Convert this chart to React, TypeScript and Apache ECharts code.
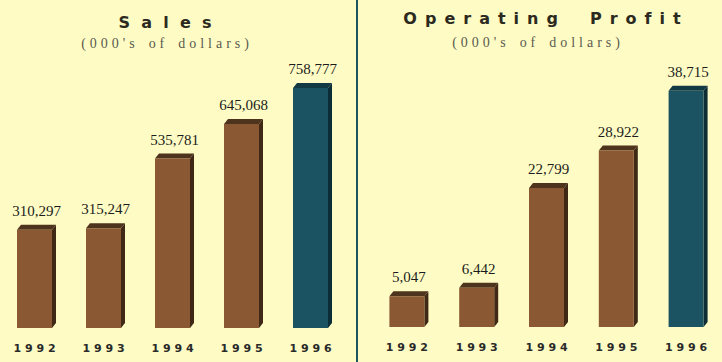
import React, { useEffect, useRef } from "react";
import * as echarts from "echarts";

const years = ["1992", "1993", "1994", "1995", "1996"];
const salesValues = [310297, 315247, 535781, 645068, 758777];
const profitValues = [5047, 6442, 22799, 28922, 38715];
const salesTitle = "Sales";
const profitTitle = "Operating Profit";
const subtitle = "(000's of dollars)";

const spaced = (s: string, gap: string, wordGap: string) =>
  s.split(" ").map((w) => w.split("").join(gap)).join(wordGap);

const BROWN = { front: "#8a5933", side: "#3f2916", top: "#4e331d" };
const TEAL = { front: "#1b5362", side: "#0c2d36", top: "#123a45" };

const makeRender = (count: number) => (params: any, api: any) => {
  const i = api.value(0);
  const v = api.value(1);
  const top = api.coord([i, v]);
  const base = api.coord([i, 0]);
  const w = 35;
  const dx = 4;
  const dy = 5;
  const x0 = top[0] - w / 2;
  const x1 = top[0] + w / 2;
  const yt = top[1];
  const yb = base[1];
  const c = i === count - 1 ? TEAL : BROWN;
  return {
    type: "group",
    children: [
      {
        type: "polygon",
        shape: { points: [[x1, yt], [x1 + dx, yt - dy], [x1 + dx, yb - dy], [x1, yb]] },
        style: { fill: c.side },
      },
      {
        type: "polygon",
        shape: { points: [[x0, yt], [x0 + dx, yt - dy], [x1 + dx, yt - dy], [x1, yt]] },
        style: { fill: c.top },
      },
      {
        type: "rect",
        shape: { x: x0, y: yt, width: w, height: yb - yt },
        style: { fill: c.front },
      },
      {
        type: "text",
        style: {
          text: Number(v).toLocaleString("en-US"),
          x: top[0] + 2,
          y: yt - 19,
          align: "center",
          verticalAlign: "middle",
          fontFamily: "Liberation Serif",
          fontSize: 15,
          fill: "#1c1c1c",
        },
      },
    ],
  };
};

export default function App() {
  const ref = useRef<HTMLDivElement>(null);
  useEffect(() => {
    if (!ref.current) return;
    const chart = echarts.init(ref.current, null, { renderer: "svg" });
    const xAxisCommon = {
      type: "category",
      data: years,
      axisLine: { show: false },
      axisTick: { show: false },
      splitLine: { show: false },
      axisLabel: {
        margin: 15,
        fontFamily: "DejaVu Sans",
        fontWeight: "bold",
        fontSize: 11,
        color: "#2a2a2a",
        formatter: (s: string) => s.split("").join(" "),
      },
    };
    const titleStyle = {
      fontFamily: "DejaVu Sans",
      fontWeight: "bold",
      fontSize: 16,
      fill: "#2c2a20",
      align: "center",
      verticalAlign: "middle",
    };
    const subStyle = {
      fontFamily: "Liberation Serif",
      fontSize: 14,
      fill: "#5a5a50",
      align: "center",
      verticalAlign: "middle",
    };
    chart.setOption({
      animation: false,
      backgroundColor: "#fefcc4",
      grid: [
        { left: -3, width: 348, top: 75, bottom: 34 },
        { left: 372, width: 349, top: 83, bottom: 35 },
      ],
      xAxis: [
        { ...xAxisCommon, gridIndex: 0 },
        { ...xAxisCommon, gridIndex: 1 },
      ],
      yAxis: [
        { type: "value", gridIndex: 0, min: 0, max: 800000, show: false, splitLine: { show: false } },
        { type: "value", gridIndex: 1, min: 0, max: 40000, show: false, splitLine: { show: false } },
      ],
      series: [
        {
          type: "custom",
          xAxisIndex: 0,
          yAxisIndex: 0,
          data: salesValues.map((v, i) => [i, v]),
          encode: { x: 0, y: 1 },
          renderItem: makeRender(salesValues.length),
        },
        {
          type: "custom",
          xAxisIndex: 1,
          yAxisIndex: 1,
          data: profitValues.map((v, i) => [i, v]),
          encode: { x: 0, y: 1 },
          renderItem: makeRender(profitValues.length),
        },
      ],
      graphic: [
        {
          type: "line",
          shape: { x1: 357, y1: 0, x2: 357, y2: 362 },
          style: { stroke: "#1f5560", lineWidth: 2 },
        },
        {
          type: "text",
          x: 165,
          y: 22,
          style: { ...titleStyle, text: spaced(salesTitle, "\u2002\u2009", "\u2002\u2002\u2002\u2002") },
        },
        {
          type: "text",
          x: 165,
          y: 43,
          style: { ...subStyle, text: spaced(subtitle, "\u2009\u200A", "\u2002\u2002") },
        },
        {
          type: "text",
          x: 542,
          y: 18,
          style: { ...titleStyle, text: spaced(profitTitle, "\u2002", "\u2002\u2002\u2002\u2002") },
        },
        {
          type: "text",
          x: 536,
          y: 42,
          style: { ...subStyle, text: spaced(subtitle, "\u2009\u200A", "\u2002\u2002") },
        },
      ],
    });
    return () => chart.dispose();
  }, []);
  return (
    <div
      ref={ref}
      style={{ position: "fixed", left: 0, top: 0, width: 722, height: 362 }}
    />
  );
}
